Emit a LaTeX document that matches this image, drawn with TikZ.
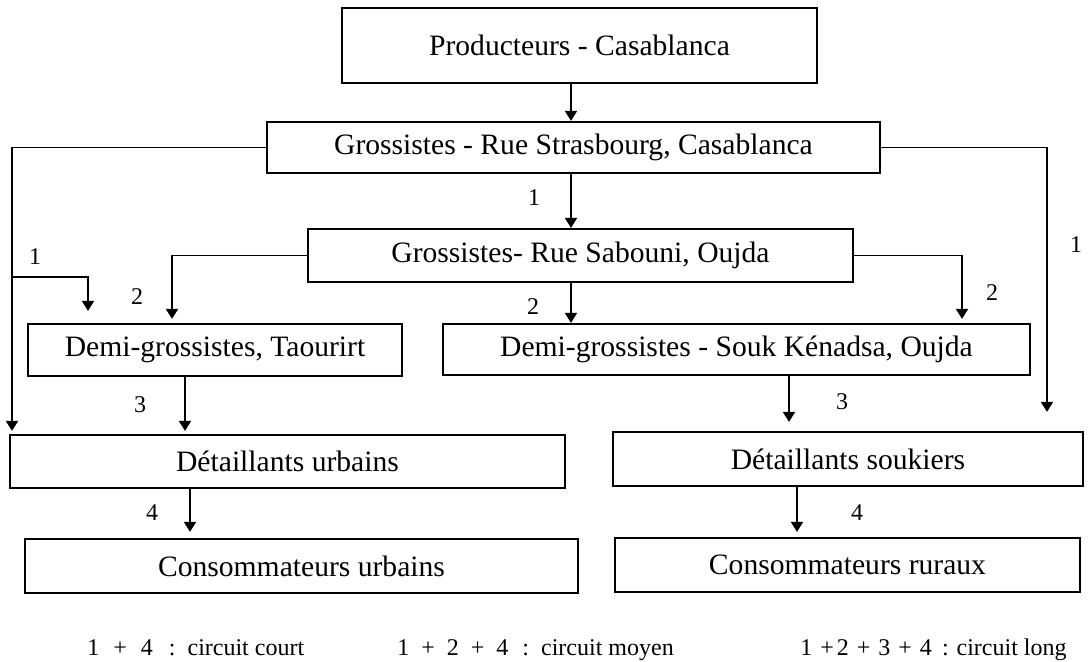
\documentclass[tikz,border=0pt]{standalone}
\usepackage{fontspec}
\setmainfont{Liberation Serif}
\usetikzlibrary{arrows.meta}
\begin{document}
\begin{tikzpicture}[x=0.5pt,y=-0.5pt,
  box/.style={draw, line width=1.1pt, inner sep=0pt, font=\fontsize{14.8}{17}\selectfont},
  conn/.style={line width=0.9pt, -{Triangle[length=5pt,width=6pt]}},
  lab/.style={font=\fontsize{12}{14}\selectfont, inner sep=0pt},
  leg/.style={font=\fontsize{12}{14}\selectfont, inner sep=0pt, anchor=base west}]
\useasboundingbox (0,0) rectangle (1088,662);
% boxes
\node[box, minimum width=237.5pt, minimum height=37.5pt] (prod) at (579.5,45.5) {Producteurs - Casablanca};
\node[box, minimum width=306.5pt, minimum height=25.5pt] (stras) at (573.5,147.5) {Grossistes - Rue Strasbourg, Casablanca};
\node[box, minimum width=272.5pt, minimum height=26.5pt] (sab) at (580.5,255.5) {Grossistes- Rue Sabouni, Oujda};
\node[box, minimum width=187pt, minimum height=26pt] (taou) at (215,350) {Demi-grossistes, Taourirt};
\node[box, minimum width=293.5pt, minimum height=25.5pt] (kena) at (736.5,349.5) {Demi-grossistes - Souk Kénadsa, Oujda};
\node[box, minimum width=277.5pt, minimum height=26.5pt] (detu) at (287.5,461.5) {Détaillants urbains};
\node[box, minimum width=235pt, minimum height=27pt] (dets) at (848,459) {Détaillants soukiers};
\node[box, minimum width=276.5pt, minimum height=27pt] (consu) at (301.5,566) {Consommateurs urbains};
\node[box, minimum width=232.5pt, minimum height=27pt] (consr) at (847.5,565) {Consommateurs ruraux};
% helper coordinates
\coordinate (xc) at (571,0);
\coordinate (xl) at (12,0);
\coordinate (j1) at (12,277);
\coordinate (xb) at (88,0);
\coordinate (xs) at (172,0);
\coordinate (xr) at (962,0);
\coordinate (xR) at (1047,0);
\coordinate (x3) at (185,0);
\coordinate (x3r) at (789,0);
\coordinate (x4) at (190,0);
\coordinate (x4r) at (797,0);
% connectors
\draw[conn] (prod.south -| xc) -- (stras.north -| xc);
\draw[conn] (stras.south -| xc) -- (sab.north -| xc);
\draw[conn] (sab.south -| xc) -- (kena.north -| xc);
\draw[conn, shorten >=1.5pt] (stras.west) -| (detu.north -| xl);
\draw[conn, shorten >=6pt] (j1) -| (taou.north -| xb);
\draw[conn, shorten >=2pt] (sab.west) -| (taou.north -| xs);
\draw[conn, shorten >=2pt] (sab.east) -| (kena.north -| xr);
\draw[conn, shorten >=9.5pt] (stras.east) -| (dets.north -| xR);
\draw[conn, shorten >=1.5pt] (taou.south -| x3) -- (detu.north -| x3);
\draw[conn, shorten >=4.5pt] (kena.south -| x3r) -- (dets.north -| x3r);
\draw[conn, shorten >=3pt] (detu.south -| x4) -- (consu.north -| x4);
\draw[conn, shorten >=2.5pt] (dets.south -| x4r) -- (consr.north -| x4r);
% labels
\node[lab] (l1a) at (534,198) {1};
\node[lab] (l2a) at (533,307) {2};
\node[lab] (l2b) at (137,297) {2};
\node[lab] (l2c) at (992,293) {2};
\node[lab] (l1b) at (35,257) {1};
\node[lab] (l1c) at (1076,245) {1};
\node[lab] (l3a) at (140,405) {3};
\node[lab] (l3b) at (842,402) {3};
\node[lab] (l4a) at (152,513) {4};
\node[lab] (l4b) at (857,513) {4};
% legend
\node[leg] (g1) at (87,655) {1\hspace{7pt}+\hspace{7pt}4\hspace{8pt}:\hspace{6pt}circuit court};
\node[leg] (g2) at (397,655) {1\hspace{6pt}+\hspace{6pt}2\hspace{6pt}+\hspace{6pt}4\hspace{7pt}:\hspace{6pt}circuit moyen};
\node[leg] (g3) at (800,655) {1\hspace{4pt}+\hspace{1.5pt}2\hspace{4pt}+\hspace{4pt}3\hspace{4pt}+\hspace{4pt}4\hspace{5pt}:\hspace{4pt}circuit long};
\end{tikzpicture}
\end{document}
